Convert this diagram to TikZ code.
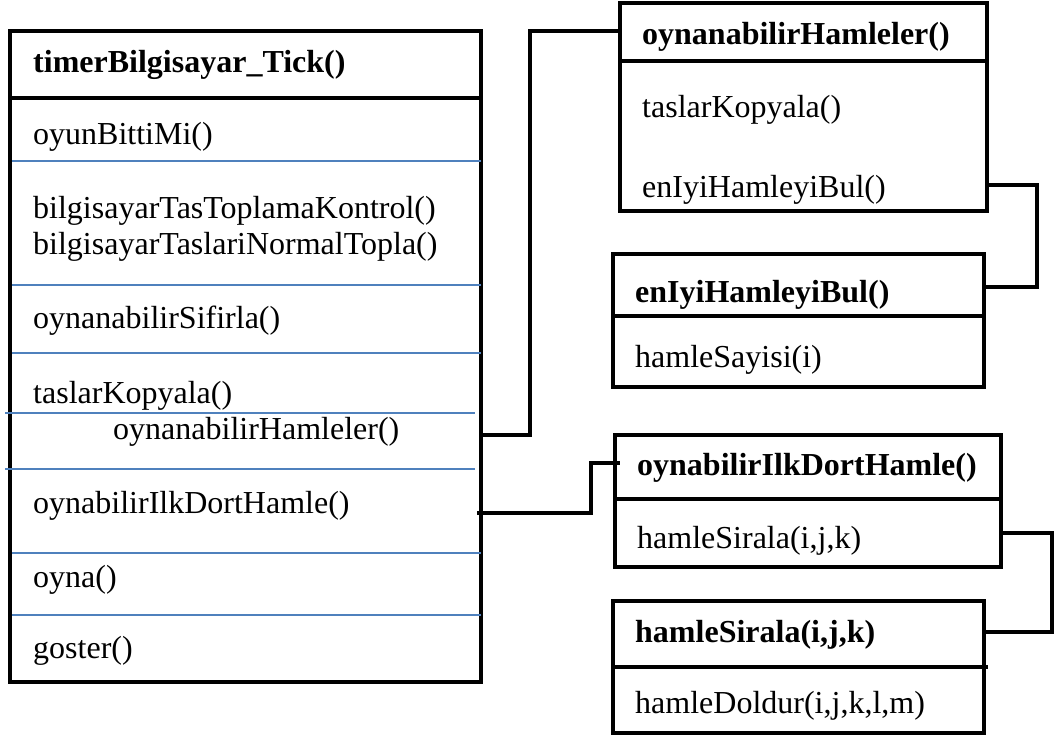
\documentclass[tikz,border=0pt]{standalone}
\usepackage{fontspec}
\setmainfont{Liberation Serif}
\definecolor{rowblue}{RGB}{79,129,189}
\tikzset{
  umlbox/.style={draw=black, line width=3.5pt, rectangle, outer sep=0pt, inner sep=0pt, anchor=north west},
  hline/.style={draw=black, line width=3.5pt},
  rowline/.style={draw=rowblue, line width=1.8pt},
  conn/.style={draw=black, line width=3.5pt},
  txt/.style={anchor=base west, inner sep=0pt, font=\fontsize{32}{38}\selectfont},
  btxt/.style={txt, font=\fontsize{32}{38}\selectfont\bfseries}
}
\begin{document}
\begin{tikzpicture}[x=1pt,y=-1pt]
\useasboundingbox (0,0) rectangle (1061,736);
% left box
\node[umlbox, minimum width=471pt, minimum height=651pt] (L) at (10,31) {};
\draw[hline] (8,98) -- (482,98);
\foreach \yy in {161,285,353,553,615} \draw[rowline] (12,\yy) -- (L.east |- 0,\yy);
\foreach \yy in {413,469} \draw[rowline] (5,\yy) -- (475,\yy);
\node[btxt] (t0) at (33,72) {timerBilgisayar\_Tick()};
\node[txt] (t1) at (33,144) {oyunBittiMi()};
\node[txt] (t2) at (33,218) {bilgisayarTasToplamaKontrol()};
\node[txt] (t3) at (33,254) {bilgisayarTaslariNormalTopla()};
\node[txt] (t4) at (33,328) {oynanabilirSifirla()};
\node[txt] (t5) at (33,403) {taslarKopyala()};
\node[txt] (t6) at (113,439) {oynanabilirHamleler()};
\node[txt] (t7) at (33,513) {oynabilirIlkDortHamle()};
\node[txt] (t8) at (33,587) {oyna()};
\node[txt] (t9) at (33,658) {goster()};
% box 1
\node[umlbox, minimum width=367pt, minimum height=208pt] (B1) at (620,3) {};
\draw[hline] (B1.west |- 0,61) -- (B1.east |- 0,61);
\node[btxt] (a0) at (642,45) {oynanabilirHamleler()};
\node[txt] (a1) at (642,117) {taslarKopyala()};
\node[txt] (a2) at (642,197) {enIyiHamleyiBul()};
% box 2
\node[umlbox, minimum width=371pt, minimum height=133pt] (B2) at (613,254) {};
\draw[hline] (B2.west |- 0,316) -- (B2.east |- 0,316);
\node[btxt] (b0) at (635,302) {enIyiHamleyiBul()};
\node[txt] (b1) at (635,367) {hamleSayisi(i)};
% box 3
\node[umlbox, minimum width=386pt, minimum height=132pt] (B3) at (615,435) {};
\draw[hline] (B3.west |- 0,499) -- (B3.east |- 0,499);
\node[btxt] (c0) at (637,475) {oynabilirIlkDortHamle()};
\node[txt] (c1) at (637,548) {hamleSirala(i,j,k)};
% box 4
\node[umlbox, minimum width=371pt, minimum height=132pt] (B4) at (613,601) {};
\draw[hline] (B4.west |- 0,667) -- (988,667);
\node[btxt] (d0) at (635,642) {hamleSirala(i,j,k)};
\node[txt] (d1) at (635,713) {hamleDoldur(i,j,k,l,m)};
% connectors
\draw[conn] (L.east |- 0,435) -- (530,435) |- (B1.west |- 0,31);
\draw[conn] ([xshift=-4pt]L.east |- 0,513) -- (591,513) |- ([xshift=5pt]B3.west |- 0,463);
\draw[conn] (B1.east |- 0,185) -| (1037,287) -- (B2.east |- 0,287);
\draw[conn] (B3.east |- 0,533) -| (1052,632) -- (B4.east |- 0,632);
\end{tikzpicture}
\end{document}
